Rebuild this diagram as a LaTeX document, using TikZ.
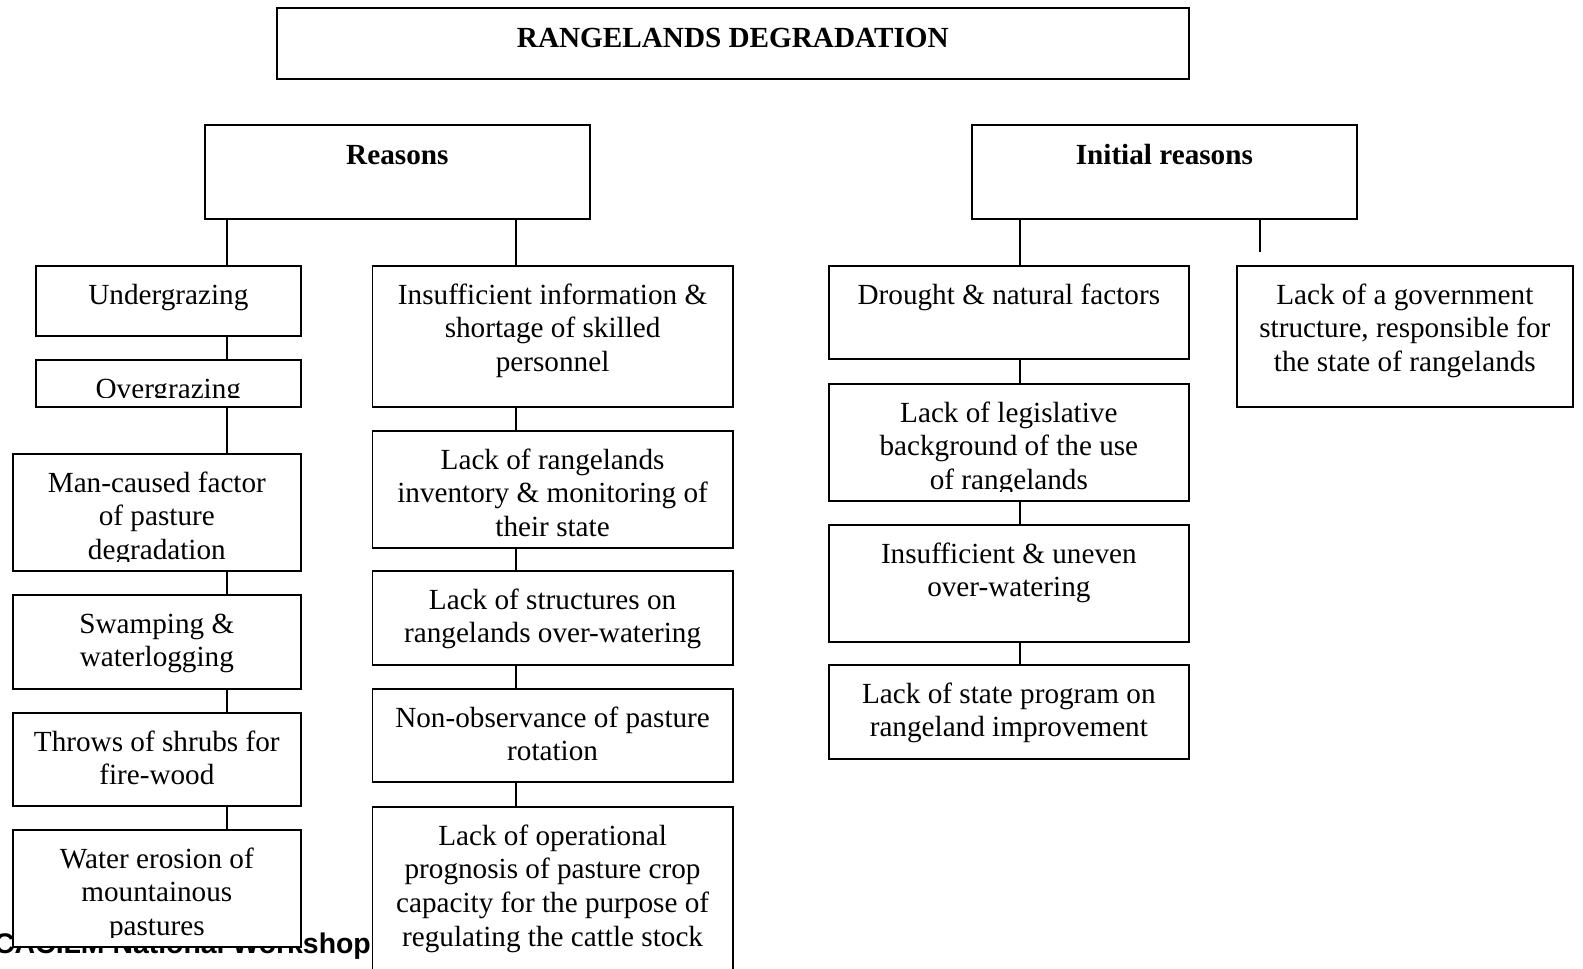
\documentclass[tikz,border=0pt]{standalone}
\usepackage{fontspec}
\setmainfont{Liberation Serif}
\newfontfamily\footfont{Liberation Sans}
\tikzset{
  boxst/.style={draw, fill=white, line width=1.7pt, inner sep=0pt, anchor=north west},
  txtst/.style={font=\fontsize{29.2}{33.8}\selectfont, align=center, inner sep=0pt, anchor=north},
  conn/.style={line width=1.7pt},
}
\newcommand\mybox[7][15.3]{%
  \node[boxst, minimum width=#5-#3, minimum height=#6-#4] (#2) at (#3,#4) {};
  \begin{scope}
    \clip ([xshift=1pt,yshift=-1pt]#2.north west) rectangle ([xshift=-1pt,yshift=10pt]#2.south east);
    \node[txtst] (#2-t) at ([yshift=-#1pt]#2.north) {\strut #7};
  \end{scope}
}
\begin{document}
\begin{tikzpicture}[x=1pt,y=-1pt]
\useasboundingbox (0,0) rectangle (1583,969);
% footer (partly hidden behind boxes)
\node[font=\footfont\bfseries\fontsize{28.4}{32}\selectfont, anchor=base east, inner sep=0pt] (foot) at (371,953) {CACILM National Workshop};
% top
\mybox[17]{title}{276}{7}{1188}{78}{\bfseries RANGELANDS DEGRADATION}
\mybox[17]{reasons}{204}{124}{589}{218}{\bfseries Reasons}
\mybox[17]{initial}{971}{124}{1356}{218}{\bfseries Initial reasons}
% column A
\mybox{under}{35}{265}{300}{335}{Undergrazing}
\mybox{over}{35}{359}{300}{406}{Overgrazing}
\mybox{man}{12}{453}{300}{570}{Man-caused factor\\of pasture\\degradation}
\mybox{swamp}{12}{594}{300}{688}{Swamping \&\\waterlogging}
\mybox{throws}{12}{712}{300}{805}{Throws of shrubs for\\fire-wood}
\mybox{water}{12}{829}{300}{946}{Water erosion of\\mountainous\\pastures}
% column B
\mybox{insuf}{371.5}{265}{732}{406}{Insufficient information \&\\shortage of skilled\\personnel}
\mybox{inv}{371.5}{430}{732}{547}{Lack of rangelands\\inventory \& monitoring of\\their state}
\mybox{struct}{371.5}{570}{732}{664}{Lack of structures on\\rangelands over-watering}
\mybox{nonobs}{371.5}{688}{732}{781}{Non-observance of pasture\\rotation}
\mybox{oper}{371.5}{806}{732}{990}{Lack of operational\\prognosis of pasture crop\\capacity for the purpose of\\regulating the cattle stock}
% column C
\mybox{drought}{828}{265}{1188}{358}{Drought \& natural factors}
\mybox{legis}{828}{383}{1188}{500}{Lack of legislative\\background of the use\\of rangelands}
\mybox{uneven}{828}{524}{1188}{641}{Insufficient \& uneven\\over-watering}
\mybox{program}{828}{664}{1188}{758}{Lack of state program on\\rangeland improvement}
% column D
\mybox{gov}{1236}{265}{1572}{406}{Lack of a government\\structure, responsible for\\the state of rangelands}
% connectors
\coordinate (cA) at (227,0);
\coordinate (cB) at (516,0);
\coordinate (cC) at (1020,0);
\coordinate (cDend) at (1260,252);
\draw[conn] (reasons.south -| cA) -- (under.north -| cA);
\draw[conn] (under.south -| cA) -- (over.north -| cA);
\draw[conn] (over.south -| cA) -- (man.north -| cA);
\draw[conn] (man.south -| cA) -- (swamp.north -| cA);
\draw[conn] (swamp.south -| cA) -- (throws.north -| cA);
\draw[conn] (throws.south -| cA) -- (water.north -| cA);
\draw[conn] (reasons.south -| cB) -- (insuf.north -| cB);
\draw[conn] (insuf.south -| cB) -- (inv.north -| cB);
\draw[conn] (inv.south -| cB) -- (struct.north -| cB);
\draw[conn] (struct.south -| cB) -- (nonobs.north -| cB);
\draw[conn] (nonobs.south -| cB) -- (oper.north -| cB);
\draw[conn] (initial.south -| cC) -- (drought.north -| cC);
\draw[conn] (drought.south -| cC) -- (legis.north -| cC);
\draw[conn] (legis.south -| cC) -- (uneven.north -| cC);
\draw[conn] (uneven.south -| cC) -- (program.north -| cC);
\draw[conn] (initial.south -| cDend) -- (cDend);
\end{tikzpicture}
\end{document}
